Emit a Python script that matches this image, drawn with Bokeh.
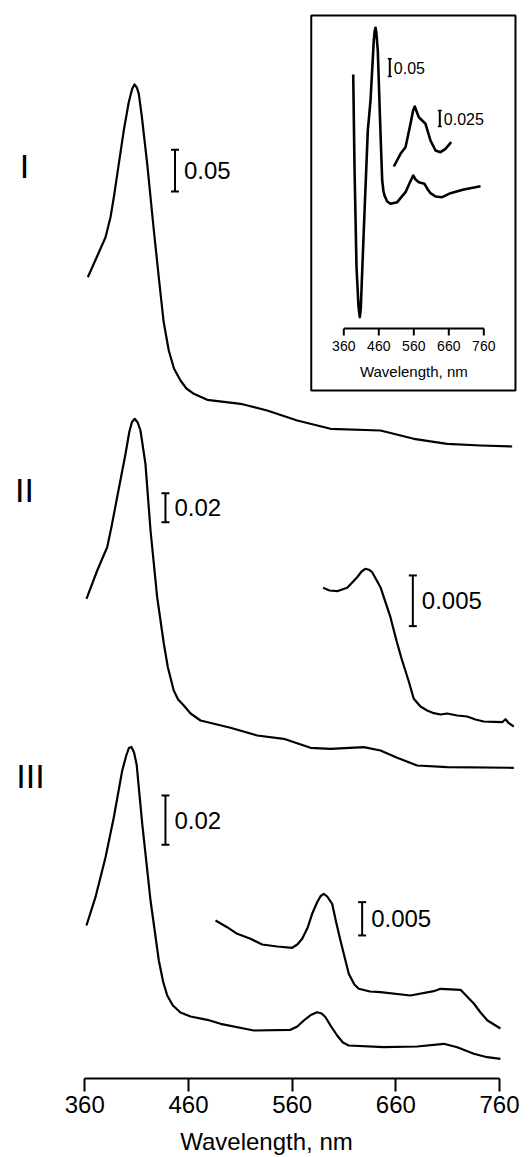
from bokeh.plotting import figure
from bokeh.models import Range1d, FixedTicker
from bokeh.embed import file_html
from bokeh.resources import INLINE
from bokeh.core.properties import value

FONT = "Liberation Sans"

# ---------------- data (wavelength in nm, signal in display units above each trace's baseline)
wl_I = [362.9, 368.7, 375.1, 380.0, 384.8, 388.0, 392.8, 397.6, 402.4, 405.7, 407.9, 410.2,
        412.1, 415.0, 420.2, 426.6, 432.0, 436.0, 441.0, 446.0, 452.3, 458.0, 465.1, 478.1,
        510.2, 535.9, 564.9, 597.0, 645.2, 677.3, 709.5, 741.7, 772.2]
sig_I = [169.3, 182.7, 197.7, 209.3, 229.3, 249.3, 282.7, 316.0, 344.3, 357.7, 362.0, 359.0,
         352.7, 330.0, 282.7, 216.0, 163.0, 125.0, 96.0, 78.0, 66.0, 58.0, 52.7, 46.7,
         42.7, 36.0, 26.0, 17.7, 16.0, 7.7, 2.7, 1.0, 0.0]

wl_II = [361.6, 372.0, 376.8, 381.6, 386.0, 391.2, 399.3, 403.0, 405.5, 408.2, 411.0, 413.7,
         418.5, 423.4, 429.8, 436.2, 440.1, 445.8, 450.0, 455.5, 462.0, 471.6, 500.5, 526.3,
         551.9, 577.7, 597.0, 629.1, 645.2, 661.3, 680.6, 709.5, 773.8]
sig_II = [168.7, 197.0, 208.7, 220.3, 242.0, 270.3, 313.7, 336.0, 345.5, 348.7, 345.0, 337.0,
          303.7, 237.0, 170.3, 124.0, 100.3, 77.0, 68.0, 62.0, 54.0, 47.0, 39.7, 32.0,
          28.7, 19.7, 18.7, 20.3, 17.0, 9.7, 2.0, 0.3, -0.3]

wl_II_x = [589.9, 596.0, 603.4, 613.1, 622.7, 627.0, 630.5, 634.0, 637.2, 645.2, 654.8, 660.6,
           665.5, 672.5, 677.3, 683.8, 690.2, 696.6, 703.1, 709.5, 719.2, 728.8, 736.8, 744.8,
           754.5, 762.6, 765.8, 769.0, 773.8]
sig_II_x = [134.7, 132.0, 131.3, 134.7, 145.3, 151.0, 153.7, 152.8, 150.3, 135.3, 105.3, 82.0,
            64.0, 41.0, 23.7, 16.0, 12.0, 9.3, 8.0, 9.0, 7.0, 6.0, 3.0, 1.0,
            0.7, 0.3, 3.3, -0.7, -4.0]

wl_III = [361.6, 370.3, 380.0, 388.0, 396.1, 400.0, 402.5, 405.0, 407.5, 410.0, 415.4, 423.4,
          431.4, 435.5, 439.5, 445.0, 452.3, 462.0, 478.1, 490.9, 523.0, 558.4, 565.0, 571.2,
          578.0, 584.1, 588.5, 592.2, 597.0, 603.4, 609.0, 614.6, 648.4, 680.6, 706.3, 719.2,
          735.2, 748.1, 760.9]
sig_III = [133.0, 161.3, 201.3, 241.3, 288.0, 303.0, 310.5, 311.5, 306.0, 294.0, 234.7, 158.0,
           98.0, 77.0, 63.0, 53.0, 46.0, 42.0, 38.7, 34.7, 28.0, 28.7, 32.0, 38.0,
           43.5, 46.3, 45.0, 41.3, 33.0, 23.0, 16.0, 13.0, 11.3, 12.0, 14.7, 11.3,
           4.7, 1.3, -0.3]

wl_III_x = [486.1, 497.3, 507.0, 519.8, 531.1, 545.6, 560.0, 565.0, 569.7, 575.0, 579.3, 584.0,
            587.5, 590.5, 593.8, 598.6, 602.5, 606.6, 614.6, 620.0, 624.3, 635.0, 645.2, 674.1,
            696.6, 703.1, 722.4, 735.2, 741.7, 748.4, 760.9]
sig_III_x = [108.0, 101.3, 94.7, 89.7, 84.0, 82.0, 80.7, 84.0, 89.7, 101.0, 114.7, 126.0,
             132.5, 134.7, 132.0, 124.7, 106.0, 88.0, 54.7, 44.0, 39.7, 37.0, 36.3, 33.0,
             37.3, 39.7, 38.7, 25.0, 16.0, 8.0, 0.0]

# inset: difference spectrum and its expanded visible region
wl_in = [386.9, 390.6, 396.3, 402.0, 405.7, 408.5, 417.1, 428.6, 436.3, 445.7, 448.5, 450.6,
         453.0, 457.1, 464.9, 469.7, 473.0, 476.3, 484.0, 493.4, 512.6, 536.3, 550.0, 558.3,
         565.0, 574.3, 590.6, 600.0, 607.7, 622.0, 641.1, 664.8, 702.8, 750.6]
sig_in = [122.0, 29.3, -70.7, -110.0, -120.7, -112.0, -34.0, 66.0, 96.0, 156.0, 166.0, 168.7,
          164.0, 146.0, 63.0, 16.0, 6.0, 1.0, -5.0, -7.3, -5.7, 4.3, 15.0, 21.0,
          17.0, 14.3, 12.7, 7.0, 3.3, 0.0, -0.7, 3.3, 7.0, 10.3]

wl_in_x = [502.9, 522.0, 536.3, 550.6, 558.0, 562.8, 567.0, 574.3, 593.4, 607.7, 622.0, 636.3,
           650.6, 666.8]
sig_in_x = [-16.0, -3.3, 3.3, 26.7, 40.0, 44.0, 40.0, 33.3, 26.7, 10.0, 0.0, -1.7, 1.7, 8.3]

ticks = [360, 460, 560, 660, 760]
tick_labels = ["360", "460", "560", "660", "760"]
trace_labels = ["I", "II", "III"]
scale_values = [0.05, 0.02, 0.005, 0.02, 0.005]
scale_texts = ["0.05", "0.02", "0.005", "0.02", "0.005"]
inset_scale_values = [0.05, 0.025]
inset_scale_texts = ["0.05", "0.025"]

# ---------------- layout constants (page pixels / display units)
W, H = 532, 1157
PAGE = 0
AXIS_Y = 1078           # page y of main axis line
X360, X760 = 84.3, 499.0
IX360, IX760 = 343.3, 483.3
INSET_AXIS_Y = 328

ppn = (X760 - X360) / 400.0
x0 = 360 - (X360 - PAGE) / ppn
x1 = 360 + (PAGE + W - X360) / ppn
ippn = (IX760 - IX360) / 400.0
ix0 = 360 - (IX360 - PAGE) / ippn
ix1 = 360 + (PAGE + W - IX360) / ippn

top_units = AXIS_Y - PAGE

p = figure(width=W, height=H, output_backend="svg", toolbar_location=None,
           x_range=Range1d(x0, x1), y_range=Range1d(0, top_units),
           y_axis_location=None, min_border_left=0, min_border_right=0,
           min_border_top=0, min_border_bottom=H - AXIS_Y)
p.extra_x_ranges = {"inset": Range1d(ix0, ix1)}
p.extra_y_ranges = {"inset": Range1d(-(AXIS_Y - INSET_AXIS_Y), INSET_AXIS_Y - PAGE)}
p.outline_line_color = None
p.grid.visible = False
p.background_fill_color = "white"
p.border_fill_color = "white"

ax = p.xaxis[0]
ax.ticker = FixedTicker(ticks=ticks)
ax.major_label_overrides = {t: l for t, l in zip(ticks, tick_labels)}
ax.bounds = (360, 760)
ax.axis_line_width = 2
ax.major_tick_line_width = 2
ax.major_tick_out = 13
ax.major_tick_in = 0
ax.minor_tick_line_color = None
ax.major_label_standoff = 4
ax.major_label_text_font = FONT
ax.major_label_text_font_size = "24px"
ax.major_label_text_color = "black"
ax.axis_label = "Wavelength, nm"
ax.axis_label_standoff = 12
ax.axis_label_text_font = FONT
ax.axis_label_text_font_size = "24px"
ax.axis_label_text_font_style = "normal"
ax.axis_label_text_color = "black"

# trace offsets (display units above main axis)
off = {"I": 632, "II": 311, "IIx": 356, "III": 20, "IIIx": 50}
traces = [(wl_I, sig_I, off["I"]), (wl_II, sig_II, off["II"]), (wl_II_x, sig_II_x, off["IIx"]),
          (wl_III, sig_III, off["III"]), (wl_III_x, sig_III_x, off["IIIx"])]
for wl, sig, o in traces:
    p.line(wl, [s + o for s in sig], line_color="black", line_width=2.2, line_join="round")

# scale bars: (x nm, centre height, display units per absorbance)
bar_pos = [(447.0, 907.8, 834.0), (437.8, 570.8, 1450.0), (676.4, 477.7, 10140.0),
           (437.8, 258.3, 2465.0), (627.5, 159.7, 6660.0)]
bx, by0, by1, bt = [], [], [], []
for (x, yc, k), v in zip(bar_pos, scale_values):
    L = v * k
    bx.append(x); by0.append(yc - L / 2); by1.append(yc + L / 2); bt.append(yc)
p.segment(x0=bx, y0=by0, x1=bx, y1=by1, line_color="black", line_width=2)
p.scatter(x=bx + bx, y=by0 + by1, marker="dash", size=8, line_color="black", line_width=2)
p.text(x=bx, y=bt, text=scale_texts, x_offset=9, text_font=value(FONT),
       text_font_size=value("24px"), text_baseline="middle", text_align="left",
       text_color="black")

# trace labels
lab_pos = [(301.8, 912.5), (301.8, 589.0), (307.6, 303.0)]
p.text(x=[a for a, b in lab_pos], y=[b for a, b in lab_pos], text=trace_labels,
       text_font=value(FONT), text_font_size=value("34px"), text_align="center",
       text_baseline="middle", text_color="black")

# ---------------- inset
IR = dict(x_range_name="inset", y_range_name="inset")
p.quad(left=[267.0], right=[850.5], bottom=[-62.0], top=[313.0], fill_color="white",
       line_color="black", line_width=2, **IR)
p.line(wl_in, [s + 132 for s in sig_in], line_color="black", line_width=2.6,
       line_join="round", **IR)
p.line(wl_in_x, [s + 178 for s in sig_in_x], line_color="black", line_width=2.6,
       line_join="round", **IR)
p.segment(x0=[360], y0=[0], x1=[760], y1=[0], line_color="black", line_width=2, **IR)
p.segment(x0=ticks, y0=[0] * 5, x1=ticks, y1=[-7] * 5, line_color="black", line_width=2, **IR)
p.text(x=ticks, y=[-17] * 5, text=tick_labels, text_font=value(FONT),
       text_font_size=value("14px"), text_align="center", text_baseline="middle",
       text_color="black", **IR)
p.text(x=[560], y=[-43], text=["Wavelength, nm"], text_font=value(FONT),
       text_font_size=value("15px"), text_align="center", text_baseline="middle",
       text_color="black", **IR)

ibar_pos = [(491.4, 260.8, 354.0), (634.3, 210.0, 640.0)]
ibx, iby0, iby1, ibt = [], [], [], []
for (x, yc, k), v in zip(ibar_pos, inset_scale_values):
    L = v * k
    ibx.append(x); iby0.append(yc - L / 2); iby1.append(yc + L / 2); ibt.append(yc)
p.segment(x0=ibx, y0=iby0, x1=ibx, y1=iby1, line_color="black", line_width=2, **IR)
p.scatter(x=ibx + ibx, y=iby0 + iby1, marker="dash", size=4, line_color="black",
          line_width=1.5, **IR)
p.text(x=ibx, y=ibt, text=inset_scale_texts, x_offset=4, text_font=value(FONT),
       text_font_size=value("16px"), text_baseline="middle", text_align="left",
       text_color="black", **IR)

open("out.html", "w").write(file_html(p, INLINE))
